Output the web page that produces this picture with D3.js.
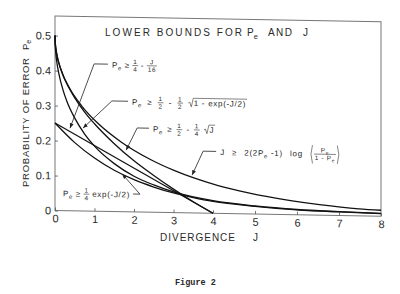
<!DOCTYPE html>
<html>
<head>
<meta charset="utf-8">
<script src="https://d3js.org/d3.v7.min.js"></script>
<style>
  body { margin: 0; background: #fff; }
  text { font-family: "Liberation Sans", Arial, sans-serif; fill: #2a2a2a; }
  .curve { fill: none; stroke: #111; stroke-width: 1.3; }
  .frame { fill: none; stroke: #777; stroke-width: 1; }
  .leader { fill: none; stroke: #222; stroke-width: 0.8; }
  .paren { fill: none; stroke: #333; stroke-width: 0.6; }
  .tick line { stroke: #555; stroke-width: 0.8; }
</style>
</head>
<body>
<svg id="chart" width="400" height="294"></svg>
<script>
// ticks
var xTicks = [0, 1, 2, 3, 4, 5, 6, 7, 8];
var yTicks = [0, 0.1, 0.2, 0.3, 0.4, 0.5];
var yTickLabels = ["0", "0.1", "0.2", "0.3", "0.4", "0.5"];

// bounds as [J, Pe]
var linearBound = [[0, 0.25], [4, 0]];
var sqrtExpBound = [[0, 0.5], [0.005, 0.475], [0.02, 0.450], [0.05, 0.421], [0.1, 0.390], [0.2, 0.346],
  [0.3, 0.313], [0.5, 0.265], [0.75, 0.220], [1, 0.186], [1.5, 0.137], [2, 0.102], [2.5, 0.078],
  [3, 0.059], [4, 0.036], [5, 0.023], [6, 0.015], [7, 0.011], [8, 0.008]];
var sqrtJBound = [[0, 0.5], [0.005, 0.482], [0.02, 0.465], [0.05, 0.444], [0.1, 0.421], [0.2, 0.388],
  [0.3, 0.363], [0.5, 0.323], [0.75, 0.283], [1, 0.25], [1.5, 0.194], [2, 0.146], [2.5, 0.105],
  [3, 0.067], [3.5, 0.032], [4, 0]];
var divBound = [[0, 0.5], [0.0016, 0.49], [0.01, 0.475], [0.04, 0.45], [0.162, 0.40], [0.371, 0.35],
  [0.678, 0.30], [1.099, 0.25], [1.664, 0.20], [2.428, 0.15], [3.028, 0.12], [3.516, 0.10],
  [4.103, 0.08], [4.843, 0.06], [5.300, 0.05], [5.848, 0.04], [6.535, 0.03], [7.472, 0.02], [8, 0.017]];
var expBound = [[0, 0.25], [0.5, 0.195], [1, 0.152], [1.5, 0.118], [2, 0.092], [2.5, 0.072], [3, 0.056],
  [3.5, 0.044], [4, 0.034], [5, 0.022], [6, 0.014], [7, 0.010], [8, 0.0075]];

// labels with leaders: tip, elbow, text start/end (in J)
var notes = [
  {tip: [0.38, 0.236], elbow: [0.99, 0.421], from: 1.44, to: 2.58,
   parts: ["P_e", "\u2265", {frac: ["1", "4"]}, "-", {frac: ["J", "16"]}]},
  {tip: [0.71, 0.237], elbow: [1.44, 0.316], from: 1.95, to: 4.81,
   parts: ["P_e", "\u2265", {frac: ["1", "2"]}, "-", {frac: ["1", "2"]}, {sqrt: "1 - exp(-J/2)"}]},
  {tip: [1.80, 0.176], elbow: [2.08, 0.240], from: 2.48, to: 4.05,
   parts: ["P_e", "\u2265", {frac: ["1", "2"]}, "-", {frac: ["1", "4"]}, {sqrt: "J"}]},
  {tip: [3.47, 0.108], elbow: [3.75, 0.177], from: 4.17, to: 7.02,
   parts: ["J", "\u2265", "2(2P_e -1)", "log", {pfrac: ["P_e", "1 - P_e"]}]},
  {tip: [1.70, 0.108], elbow: [2.15, 0.051], from: 0.20, to: 1.90,
   parts: ["P_e", "\u2265", {frac: ["1", "4"]}, "exp(-J/2)"]}
];

var svg = d3.select("#chart");
var yTop = 0.556;
var x = d3.scaleLinear().domain([0, 4, 8]).range([55, 213, 381]);
var y = d3.scaleLinear().domain([0, yTop]).range([210.5, 16]);

svg.append("defs").append("marker")
  .attr("id", "arr").attr("viewBox", "0 0 6 6").attr("refX", 6).attr("refY", 3)
  .attr("markerWidth", 5).attr("markerHeight", 5).attr("markerUnits", "userSpaceOnUse")
  .attr("orient", "auto")
  .append("path").attr("d", "M0,0.6L6,3L0,5.4z").attr("fill", "#222");

// the scan is a little skewed
var plot = svg.append("g").attr("transform", "matrix(1,0.0175,0,1,0,-0.96)");

plot.append("rect").attr("class", "frame")
  .attr("x", x(0)).attr("y", y(yTop))
  .attr("width", x(8) - x(0)).attr("height", y(0) - y(yTop));

var gx = plot.append("g").attr("transform", "translate(0," + y(0) + ")")
  .call(d3.axisBottom(x).tickValues(xTicks).tickFormat(d3.format("d"))
    .tickSizeInner(-3).tickSizeOuter(0).tickPadding(4));
var gy = plot.append("g").attr("transform", "translate(" + x(0) + ",0)")
  .call(d3.axisLeft(y).tickValues(yTicks).tickFormat(function(d, i) { return yTickLabels[i]; })
    .tickSizeInner(-3).tickSizeOuter(0).tickPadding(4));
[gx, gy].forEach(function(g) {
  g.select(".domain").remove();
  g.attr("font-family", null).attr("font-size", null);
  g.selectAll("text").style("font-size", "11px").attr("fill", null);
});

var line = d3.line().x(function(d) { return x(d[0]); }).y(function(d) { return y(d[1]); })
  .curve(d3.curveMonotoneX);
[linearBound, sqrtExpBound, sqrtJBound, divBound, expBound].forEach(function(c) {
  plot.append("path").datum(c).attr("class", "curve").attr("d", line);
});

// text with "_e" as subscript e
function rich(t, s, fs) {
  var bits = s.split("_e");
  bits.forEach(function(b, i) {
    if (i > 0) t.append("tspan").attr("dy", fs * 0.3).style("font-size", (fs * 0.75) + "px").text("e");
    if (b) t.append("tspan").attr("dy", i > 0 ? -fs * 0.3 : 0).text(b);
  });
}

function drawPart(g, p, fs) {
  if (typeof p === "string") {
    var t = g.append("text").style("font-size", fs + "px");
    rich(t, p, fs);
    return t.node().getComputedTextLength();
  }
  if (p.frac || p.pfrac) {
    var f = p.frac || p.pfrac, ffs = fs * 0.8, off = p.pfrac ? 4 : 0, mid = -fs * 0.32;
    var num = g.append("text").style("font-size", ffs + "px").attr("text-anchor", "middle");
    rich(num, f[0], ffs);
    var den = g.append("text").style("font-size", ffs + "px").attr("text-anchor", "middle");
    rich(den, f[1], ffs);
    var fw = Math.max(num.node().getComputedTextLength(), den.node().getComputedTextLength()) + 1.5;
    num.attr("x", off + fw / 2).attr("y", mid - 1.6);
    den.attr("x", off + fw / 2).attr("y", mid + 1.4 + ffs * 0.72);
    g.append("line").attr("x1", off).attr("x2", off + fw).attr("y1", mid).attr("y2", mid)
      .attr("stroke", "#333").attr("stroke-width", 0.6);
    if (p.pfrac) {
      var top = mid - ffs - 2.5, bot = mid + ffs + 3, r = off * 2 + fw;
      g.append("path").attr("class", "paren").attr("d", "M2.5," + top + "Q-0.5," + mid + " 2.5," + bot);
      g.append("path").attr("class", "paren")
        .attr("d", "M" + (r - 2.5) + "," + top + "Q" + (r + 0.5) + "," + mid + " " + (r - 2.5) + "," + bot);
      return r;
    }
    return fw;
  }
  var s = g.append("text").style("font-size", fs + "px").attr("x", 5.5).text(p.sqrt);
  var w = s.node().getComputedTextLength(), tp = -fs * 0.95;
  g.append("path").attr("class", "paren")
    .attr("d", "M0," + (-fs * 0.35) + "L1.5," + (-fs * 0.45) + "L3,1L5," + tp + "L" + (w + 6.5) + "," + tp);
  return w + 6.5;
}

var fs = 8;
notes.forEach(function(n) {
  var g = plot.append("g").style("letter-spacing", "0.7px");
  var pieces = n.parts.map(function(p) {
    var pg = g.append("g");
    return {g: pg, w: drawPart(pg, p, fs)};
  });
  var x0 = x(n.from), x1 = x(n.to);
  var total = d3.sum(pieces, function(d) { return d.w; });
  var gap = Math.max(2, (x1 - x0 - total) / (pieces.length - 1));
  var base = y(n.elbow[1]) + 3.5, cx = x0;
  pieces.forEach(function(d) {
    d.g.attr("transform", "translate(" + cx + "," + base + ")");
    cx += d.w + gap;
  });
  var textEnd = cx - gap;
  var hx = n.from > n.elbow[0] ? x0 - 4 : textEnd + 3;
  plot.append("path").attr("class", "leader").attr("marker-end", "url(#arr)")
    .attr("d", "M" + hx + "," + y(n.elbow[1]) + "L" + x(n.elbow[0]) + "," + y(n.elbow[1]) +
      "L" + x(n.tip[0]) + "," + y(n.tip[1]));
});

// titles
var t1 = svg.append("text").attr("x", 105).attr("y", 36).style("font-size", "10px")
  .attr("textLength", 137).attr("lengthAdjust", "spacing").text("LOWER BOUNDS FOR");
var t2 = svg.append("text").attr("x", 247).attr("y", 36).style("font-size", "10px");
rich(t2, "P_e", 10);
svg.append("text").attr("x", 268).attr("y", 36).style("font-size", "10px")
  .attr("textLength", 24).attr("lengthAdjust", "spacing").text("AND");
svg.append("text").attr("x", 303).attr("y", 36).style("font-size", "10px").text("J");

svg.append("text").attr("x", 160).attr("y", 241).style("font-size", "10px")
  .attr("textLength", 75).attr("lengthAdjust", "spacing").text("DIVERGENCE");
svg.append("text").attr("x", 253).attr("y", 241).style("font-size", "10px").text("J");

svg.append("text").attr("transform", "translate(28.5,187) rotate(-90)").style("font-size", "9.5px")
  .attr("textLength", 129).attr("lengthAdjust", "spacing").text("PROBABILITY OF ERROR");
var ty = svg.append("text").attr("transform", "translate(28.5,50) rotate(-90)").style("font-size", "9.5px");
rich(ty, "P_e", 9.5);

svg.append("text").attr("x", 175).attr("y", 285)
  .style("font-family", "'Liberation Mono', monospace").style("font-size", "8.5px")
  .style("font-weight", "bold").text("Figure 2");
</script>
</body>
</html>
